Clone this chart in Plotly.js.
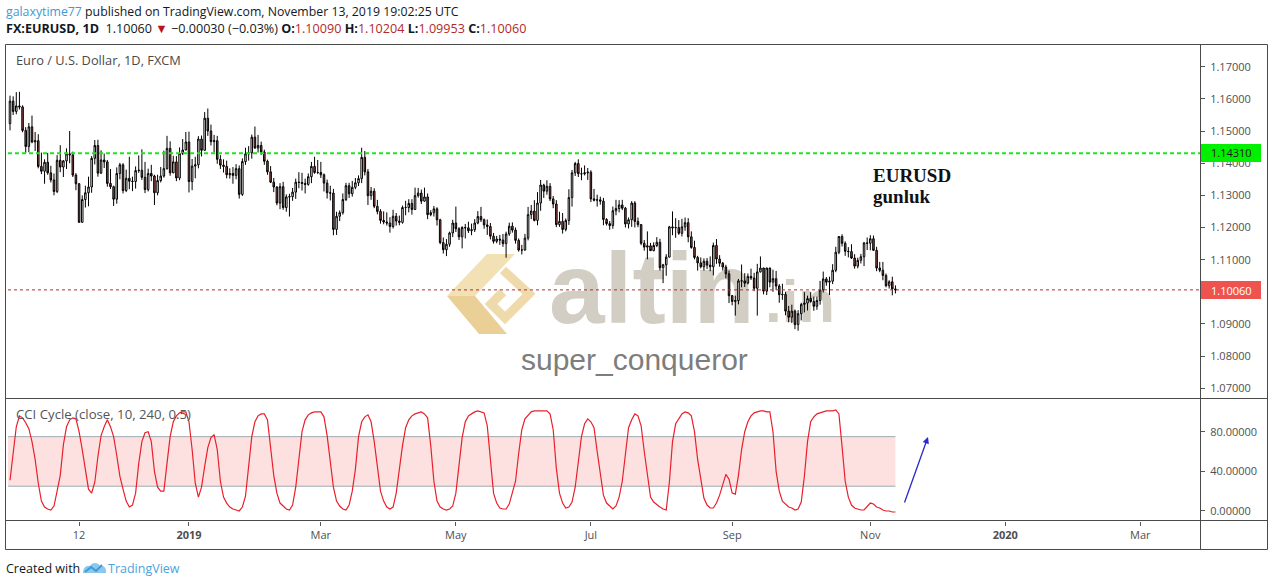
<!DOCTYPE html>
<html><head><meta charset="utf-8">
<script src="https://cdn.plot.ly/plotly-3.0.1.min.js"></script>
<style>
html,body{margin:0;padding:0;background:#fff;width:1274px;height:586px;overflow:hidden}
#wm{position:absolute;left:0;top:0;width:1274px;height:586px;z-index:0}
#chart{position:absolute;left:0;top:0;width:1274px;height:586px;z-index:1}
.wt{position:absolute;white-space:nowrap}
</style></head>
<body>
<div id="wm">
  <svg style="position:absolute;left:445px;top:252px" width="94" height="86">
    <polygon points="42,2 70,2 30,44 2,44" fill="#f0dca8" opacity="0.85"/>
    <polygon points="2,44 30,44 62,82 34,82" fill="#e6c885" opacity="0.85"/>
    <polyline points="58,18 84,42 60,66 46,52 58,40" fill="none" stroke="#ecd49c" stroke-width="9" opacity="0.85"/>
  </svg>
  <div class="wt" style="left:549px;top:238px;font:bold 100px 'Liberation Sans';line-height:100px;color:#d3cec4">altin</div>
  <div class="wt" style="left:765px;top:272px;font:bold 60px 'Liberation Sans';line-height:60px;color:#d3cec4">.in</div>
  <div class="wt" style="left:521px;top:345px;font:30px 'Liberation Sans';line-height:30px;color:#7d7d7d">super_conqueror</div>
  <svg style="position:absolute;left:82px;top:561px" width="26" height="14">
    <path d="M1,12 C1,7 4,4 8,5 C10,1 16,1 18,5 C22,4 25,8 24,12 Z" fill="#8cc8ee"/>
    <path d="M3,11 L9,6 L14,10 L20,4" fill="none" stroke="#3d9ad8" stroke-width="2"/>
  </svg>
</div>
<div id="chart"></div>
<script>
// ---- data: EURUSD daily candles, Oct 11 2018 .. Nov 13 2019 (trading days) ----
const openP = [
1.1523,1.1593,1.1561,1.1578,1.1575,1.1502,1.1452,1.1513,1.1466,1.1470,
1.1390,1.1375,1.1403,1.1370,1.1348,1.1312,1.1409,1.1388,1.1407,1.1429,
1.1426,1.1363,1.1336,1.1216,1.1287,1.1308,1.1326,1.1415,1.1455,1.1369,
1.1410,1.1404,1.1337,1.1327,1.1288,1.1368,1.1395,1.1315,1.1353,1.1344,
1.1343,1.1377,1.1378,1.1356,1.1318,1.1368,1.1360,1.1308,1.1346,1.1360,
1.1383,1.1446,1.1370,1.1404,1.1354,1.1430,1.1441,1.1466,1.1343,1.1391,
1.1395,1.1475,1.1440,1.1540,1.1500,1.1467,1.1470,1.1412,1.1394,1.1390,
1.1364,1.1368,1.1362,1.1383,1.1303,1.1405,1.1429,1.1432,1.1481,1.1447,
1.1455,1.1435,1.1406,1.1373,1.1341,1.1326,1.1276,1.1327,1.1262,1.1295,
1.1296,1.1310,1.1341,1.1340,1.1337,1.1334,1.1358,1.1390,1.1371,1.1371,
1.1364,1.1338,1.1308,1.1307,1.1194,1.1235,1.1246,1.1287,1.1330,1.1305,
1.1325,1.1339,1.1352,1.1418,1.1373,1.1299,1.1313,1.1266,1.1250,1.1222,
1.1217,1.1214,1.1203,1.1235,1.1220,1.1216,1.1262,1.1262,1.1275,1.1256,
1.1299,1.1307,1.1282,1.1295,1.1240,1.1246,1.1258,1.1224,1.1153,1.1131,
1.1148,1.1183,1.1214,1.1196,1.1171,1.1200,1.1199,1.1190,1.1193,1.1214,
1.1234,1.1224,1.1208,1.1203,1.1173,1.1157,1.1164,1.1161,1.1150,1.1180,
1.1204,1.1192,1.1160,1.1130,1.1130,1.1167,1.1240,1.1251,1.1222,1.1276,
1.1332,1.1313,1.1328,1.1289,1.1273,1.1209,1.1219,1.1194,1.1222,1.1293,
1.1370,1.1399,1.1367,1.1367,1.1370,1.1372,1.1289,1.1285,1.1286,1.1282,
1.1225,1.1212,1.1206,1.1252,1.1259,1.1270,1.1260,1.1211,1.1224,1.1276,
1.1219,1.1209,1.1151,1.1139,1.1143,1.1128,1.1144,1.1154,1.1075,1.1084,
1.1108,1.1202,1.1199,1.1200,1.1182,1.1202,1.1215,1.1171,1.1138,1.1107,
1.1090,1.1078,1.1095,1.1083,1.1078,1.1144,1.1102,1.1089,1.1077,1.1056,
1.0988,1.0970,1.0973,1.1034,1.1034,1.1027,1.1048,1.1043,1.1011,1.1062,
1.1074,1.1002,1.1074,1.1030,1.1041,1.1018,1.0991,1.0992,1.0940,1.0921,
1.0940,1.0898,1.0932,1.0961,1.0965,1.0979,1.0970,1.0955,1.0973,1.1006,
1.1040,1.1030,1.1033,1.1067,1.1123,1.1172,1.1151,1.1126,1.1125,1.1105,
1.1080,1.1098,1.1109,1.1152,1.1151,1.1165,1.1129,1.1074,1.1067,1.1051,
1.1019,1.1031,1.1009];
const highP = [
1.1610,1.1608,1.1621,1.1622,1.1580,1.1512,1.1525,1.1548,1.1497,1.1490,
1.1433,1.1412,1.1432,1.1392,1.1368,1.1425,1.1456,1.1410,1.1446,1.1500,
1.1436,1.1369,1.1338,1.1300,1.1330,1.1358,1.1422,1.1472,1.1473,1.1440,
1.1430,1.1410,1.1382,1.1330,1.1387,1.1401,1.1400,1.1380,1.1420,1.1358,
1.1390,1.1424,1.1443,1.1404,1.1383,1.1395,1.1364,1.1364,1.1388,1.1439,
1.1485,1.1468,1.1423,1.1422,1.1449,1.1475,1.1497,1.1498,1.1413,1.1420,
1.1484,1.1486,1.1559,1.1570,1.1520,1.1488,1.1485,1.1425,1.1412,1.1408,
1.1384,1.1388,1.1397,1.1393,1.1415,1.1448,1.1453,1.1489,1.1514,1.1488,
1.1467,1.1442,1.1411,1.1391,1.1354,1.1328,1.1338,1.1342,1.1303,1.1305,
1.1323,1.1352,1.1372,1.1370,1.1352,1.1368,1.1404,1.1420,1.1410,1.1404,
1.1368,1.1349,1.1330,1.1320,1.1249,1.1253,1.1306,1.1339,1.1339,1.1345,
1.1354,1.1362,1.1448,1.1438,1.1382,1.1326,1.1322,1.1286,1.1257,1.1250,
1.1247,1.1232,1.1255,1.1245,1.1237,1.1268,1.1283,1.1288,1.1288,1.1324,
1.1323,1.1318,1.1324,1.1306,1.1254,1.1267,1.1263,1.1227,1.1169,1.1164,
1.1187,1.1224,1.1265,1.1201,1.1204,1.1211,1.1218,1.1212,1.1226,1.1251,
1.1264,1.1228,1.1225,1.1214,1.1183,1.1174,1.1177,1.1180,1.1187,1.1215,
1.1216,1.1200,1.1166,1.1146,1.1180,1.1264,1.1270,1.1285,1.1310,1.1348,
1.1336,1.1347,1.1338,1.1298,1.1285,1.1249,1.1245,1.1228,1.1319,1.1379,
1.1404,1.1412,1.1386,1.1393,1.1385,1.1378,1.1320,1.1302,1.1296,1.1292,
1.1229,1.1220,1.1265,1.1286,1.1285,1.1286,1.1264,1.1231,1.1282,1.1282,
1.1231,1.1211,1.1161,1.1188,1.1152,1.1154,1.1170,1.1165,1.1087,1.1117,
1.1205,1.1250,1.1229,1.1223,1.1227,1.1231,1.1229,1.1188,1.1159,1.1112,
1.1107,1.1104,1.1105,1.1110,1.1153,1.1164,1.1114,1.1093,1.1084,1.1066,
1.0990,1.0988,1.1040,1.1085,1.1058,1.1057,1.1072,1.1059,1.1087,1.1110,
1.1075,1.1075,1.1075,1.1069,1.1065,1.1024,1.1025,1.1000,1.0956,1.0960,
1.0945,1.0943,1.0966,1.0999,1.0988,1.0999,1.0985,1.0985,1.1034,1.1063,
1.1046,1.1047,1.1086,1.1140,1.1173,1.1179,1.1157,1.1139,1.1148,1.1117,
1.1106,1.1118,1.1155,1.1169,1.1176,1.1175,1.1140,1.1093,1.1093,1.1057,
1.1036,1.1047,1.1020];
const lowP = [
1.1502,1.1550,1.1552,1.1567,1.1496,1.1432,1.1434,1.1462,1.1438,1.1384,
1.1366,1.1336,1.1364,1.1340,1.1300,1.1307,1.1372,1.1357,1.1382,1.1400,
1.1357,1.1316,1.1216,1.1216,1.1262,1.1266,1.1308,1.1396,1.1358,1.1367,
1.1385,1.1327,1.1320,1.1267,1.1274,1.1350,1.1306,1.1310,1.1319,1.1313,
1.1321,1.1370,1.1348,1.1307,1.1312,1.1344,1.1270,1.1300,1.1340,1.1355,
1.1380,1.1361,1.1369,1.1344,1.1347,1.1425,1.1440,1.1309,1.1316,1.1353,
1.1384,1.1421,1.1440,1.1485,1.1455,1.1433,1.1398,1.1382,1.1371,1.1353,
1.1352,1.1336,1.1350,1.1290,1.1298,1.1395,1.1408,1.1414,1.1445,1.1433,
1.1426,1.1395,1.1364,1.1338,1.1310,1.1269,1.1257,1.1255,1.1249,1.1234,
1.1283,1.1289,1.1322,1.1315,1.1306,1.1330,1.1338,1.1367,1.1366,1.1354,
1.1312,1.1290,1.1284,1.1176,1.1177,1.1220,1.1240,1.1282,1.1292,1.1296,
1.1319,1.1329,1.1338,1.1362,1.1270,1.1286,1.1260,1.1241,1.1212,1.1210,
1.1206,1.1184,1.1197,1.1206,1.1207,1.1212,1.1238,1.1247,1.1240,1.1255,
1.1293,1.1273,1.1280,1.1226,1.1235,1.1234,1.1206,1.1148,1.1119,1.1111,
1.1140,1.1170,1.1186,1.1161,1.1135,1.1166,1.1183,1.1176,1.1186,1.1210,
1.1217,1.1196,1.1177,1.1163,1.1150,1.1151,1.1146,1.1140,1.1106,1.1174,
1.1184,1.1150,1.1125,1.1116,1.1128,1.1160,1.1226,1.1219,1.1207,1.1252,
1.1292,1.1302,1.1282,1.1260,1.1201,1.1202,1.1181,1.1188,1.1208,1.1265,
1.1360,1.1357,1.1347,1.1362,1.1348,1.1279,1.1281,1.1265,1.1271,1.1207,
1.1206,1.1193,1.1196,1.1238,1.1247,1.1254,1.1200,1.1197,1.1202,1.1200,
1.1201,1.1145,1.1128,1.1101,1.1128,1.1126,1.1139,1.1066,1.1027,1.1050,
1.1107,1.1176,1.1168,1.1177,1.1172,1.1190,1.1154,1.1134,1.1101,1.1066,
1.1073,1.1066,1.1071,1.1064,1.1051,1.1087,1.1078,1.1066,1.1042,1.0965,
1.0958,1.0926,1.0961,1.1014,1.1015,1.1023,1.1037,1.1002,1.0926,1.1060,
1.0992,1.0990,1.1014,1.1000,1.1006,1.0966,1.0975,1.0927,1.0905,1.0903,
1.0884,1.0879,1.0911,1.0936,1.0942,1.0966,1.0941,1.0944,1.0960,1.0998,
1.1019,1.0990,1.1024,1.1061,1.1117,1.1141,1.1112,1.1107,1.1102,1.1072,
1.1073,1.1088,1.1080,1.1130,1.1129,1.1130,1.1064,1.1061,1.1036,1.1014,
1.1010,1.0989,1.0995];
const closeP = [
1.1593,1.1561,1.1578,1.1575,1.1502,1.1452,1.1513,1.1466,1.1470,1.1390,
1.1375,1.1403,1.1370,1.1348,1.1312,1.1409,1.1388,1.1407,1.1429,1.1426,
1.1363,1.1336,1.1216,1.1287,1.1308,1.1326,1.1415,1.1455,1.1369,1.1410,
1.1404,1.1337,1.1327,1.1288,1.1368,1.1395,1.1315,1.1353,1.1344,1.1343,
1.1377,1.1378,1.1356,1.1318,1.1368,1.1360,1.1308,1.1346,1.1360,1.1383,
1.1446,1.1370,1.1404,1.1354,1.1430,1.1441,1.1466,1.1343,1.1391,1.1395,
1.1475,1.1440,1.1540,1.1500,1.1467,1.1470,1.1412,1.1394,1.1390,1.1364,
1.1368,1.1362,1.1383,1.1303,1.1405,1.1429,1.1432,1.1481,1.1447,1.1455,
1.1435,1.1406,1.1373,1.1341,1.1326,1.1276,1.1327,1.1262,1.1295,1.1296,
1.1310,1.1341,1.1340,1.1337,1.1334,1.1358,1.1390,1.1371,1.1371,1.1364,
1.1338,1.1308,1.1307,1.1194,1.1235,1.1246,1.1287,1.1330,1.1305,1.1325,
1.1339,1.1352,1.1418,1.1373,1.1299,1.1313,1.1266,1.1250,1.1222,1.1217,
1.1214,1.1203,1.1235,1.1220,1.1216,1.1262,1.1262,1.1275,1.1256,1.1299,
1.1307,1.1282,1.1295,1.1240,1.1246,1.1258,1.1224,1.1153,1.1131,1.1148,
1.1183,1.1214,1.1196,1.1171,1.1200,1.1199,1.1190,1.1193,1.1214,1.1234,
1.1224,1.1208,1.1203,1.1173,1.1157,1.1164,1.1161,1.1150,1.1180,1.1204,
1.1192,1.1160,1.1130,1.1130,1.1167,1.1240,1.1251,1.1222,1.1276,1.1332,
1.1313,1.1328,1.1289,1.1273,1.1209,1.1219,1.1194,1.1222,1.1293,1.1370,
1.1399,1.1367,1.1367,1.1370,1.1372,1.1289,1.1285,1.1286,1.1282,1.1225,
1.1212,1.1206,1.1252,1.1259,1.1270,1.1260,1.1211,1.1224,1.1276,1.1219,
1.1209,1.1151,1.1139,1.1143,1.1128,1.1144,1.1154,1.1075,1.1084,1.1108,
1.1202,1.1199,1.1200,1.1182,1.1202,1.1215,1.1171,1.1138,1.1107,1.1090,
1.1078,1.1095,1.1083,1.1078,1.1144,1.1102,1.1089,1.1077,1.1056,1.0988,
1.0970,1.0973,1.1034,1.1034,1.1027,1.1048,1.1043,1.1011,1.1062,1.1074,
1.1002,1.1074,1.1030,1.1041,1.1018,1.0991,1.0992,1.0940,1.0921,1.0940,
1.0898,1.0932,1.0961,1.0965,1.0979,1.0970,1.0955,1.0973,1.1006,1.1040,
1.1030,1.1033,1.1067,1.1123,1.1172,1.1151,1.1126,1.1125,1.1105,1.1080,
1.1098,1.1109,1.1152,1.1151,1.1165,1.1129,1.1074,1.1067,1.1051,1.1019,
1.1031,1.1009,1.1006];
const cciCycle = [
31,58,85,96,94,89,83,70,52,28,
10,4,2,1,5,20,36,67,85,92,
94,93,80,62,42,22,18,29,55,76,
85,92,85,75,56,35,22,10,4,6,
18,48,70,79,80,70,40,24,20,20,
48,75,90,96,99,100,100,90,62,28,
14,24,45,64,74,77,62,30,14,8,
4,2,1,0,4,15,45,75,90,96,
98,98,92,66,36,18,8,5,2,1,
6,24,52,80,92,97,99,100,100,100,
95,76,50,24,10,5,2,1,6,20,
42,75,90,95,97,90,70,44,20,10,
4,2,4,18,44,66,84,92,96,98,
99,100,98,94,66,30,10,4,2,1,
2,5,18,45,74,90,96,98,100,101,
100,99,86,50,18,8,3,2,2,7,
18,30,58,82,93,97,100,101,101,101,
101,101,98,82,43,18,8,3,4,9,
24,50,75,88,93,90,84,60,38,16,
8,5,2,5,14,30,60,84,92,98,
96,86,60,36,14,9,6,4,2,1,
29,70,88,93,98,100,99,96,80,52,
30,13,6,3,3,8,16,26,37,32,
18,17,36,62,80,90,96,99,100,101,
101,100,100,80,40,20,10,7,4,3,
1,2,9,35,70,90,95,98,99,100,
101,101,101,102,98,65,30,14,6,3,
2,1,1,5,8,7,4,3,1,0,
0,-1,-1];
// time-axis ticks: bar positions (trading-day index) and their labels
const tickBars   = [22, 57, 99, 142, 185, 230, 274, 317, 360];
const tickLabels = ['12', '<b>2019</b>', 'Mar', 'May', 'Jul', 'Sep', 'Nov', '<b>2020</b>', 'Mar'];
const priceTicks = [1.07,1.08,1.09,1.10,1.11,1.12,1.13,1.14,1.15,1.16,1.17];
const cciTicks   = [0, 40, 80];
const levelGreen = 1.1431;
const lastClose  = 1.1006;
const bandLow = 25, bandHigh = 75;

// ---- layout helpers (pixel -> paper) ----
const W = 1274, H = 586;
const px = v => v / W;
const py = v => 1 - v / H;
const xs = closeP.map((_, i) => i);
const FONT = "'Open Sans', sans-serif";

const traces = [
  {
    type: 'candlestick', x: xs, open: openP, high: highP, low: lowP, close: closeP,
    xaxis: 'x', yaxis: 'y',
    increasing: {line: {color: '#000000', width: 1}, fillcolor: '#ffffff'},
    decreasing: {line: {color: '#000000', width: 1}, fillcolor: '#a24f4a'},
    whiskerwidth: 0, hoverinfo: 'skip', showlegend: false
  },
  {
    type: 'scatter', mode: 'lines', x: xs, y: cciCycle, xaxis: 'x', yaxis: 'y2',
    line: {color: '#e8202c', width: 1.2}, hoverinfo: 'skip', showlegend: false
  }
];

const frameColor = '#4a4a4a';
const shapes = [
  // CCI band
  {type: 'rect', xref: 'x', yref: 'y2', x0: -0.7, x1: xs.length - 1, y0: bandLow, y1: bandHigh,
   fillcolor: '#fde1e1', line: {width: 0}, layer: 'below'},
  {type: 'line', xref: 'x', yref: 'y2', x0: -0.7, x1: xs.length - 1, y0: bandLow, y1: bandLow,
   line: {color: '#9eaab0', width: 1}, layer: 'below'},
  {type: 'line', xref: 'x', yref: 'y2', x0: -0.7, x1: xs.length - 1, y0: bandHigh, y1: bandHigh,
   line: {color: '#9eaab0', width: 1}, layer: 'below'},
  // price levels
  {type: 'line', xref: 'paper', yref: 'y', x0: px(8), x1: px(1200), y0: levelGreen, y1: levelGreen,
   line: {color: '#1ee61e', width: 2, dash: '4px,3px'}},
  {type: 'line', xref: 'paper', yref: 'y', x0: px(8), x1: px(1200), y0: lastClose, y1: lastClose,
   line: {color: '#b0312b', width: 1, dash: 'dot'}},
  // frame
  {type: 'rect', xref: 'paper', yref: 'paper', x0: px(5.5), x1: px(1267.5), y0: py(549.5), y1: py(44.5),
   line: {color: frameColor, width: 1}},
  {type: 'line', xref: 'paper', yref: 'paper', x0: px(1200.5), x1: px(1200.5), y0: py(44.5), y1: py(549.5),
   line: {color: frameColor, width: 1}},
  {type: 'line', xref: 'paper', yref: 'paper', x0: px(5.5), x1: px(1267.5), y0: py(398.5), y1: py(398.5),
   line: {color: frameColor, width: 1}},
  {type: 'line', xref: 'paper', yref: 'paper', x0: px(5.5), x1: px(1267.5), y0: py(520.5), y1: py(520.5),
   line: {color: frameColor, width: 1}},
  // price labels on axis
  {type: 'rect', xref: 'paper', yref: 'paper', x0: px(1201), x1: px(1261), y0: py(162), y1: py(144),
   fillcolor: '#00f000', line: {width: 0}},
  {type: 'rect', xref: 'paper', yref: 'paper', x0: px(1201), x1: px(1261), y0: py(299), y1: py(281),
   fillcolor: '#ef5350', line: {width: 0}}
];

const ann = (text, x, y, opts) => Object.assign({
  text, x: px(x), y: py(y), xref: 'paper', yref: 'paper', xanchor: 'left', yanchor: 'middle',
  showarrow: false, font: {family: FONT, size: 12.3, color: '#131722'}
}, opts || {});

const red = '#b22a2a';
const annotations = [
  ann("<span style='color:#3f9ad6'>galaxytime77</span> published on TradingView.com, November 13, 2019 19:02:25 UTC", 4, 12),
  ann("<b>FX:EURUSD, 1D</b>  1.10060 <span style='color:#b8141b'>▼</span> −0.00030 (−0.03%) <b>O:</b><span style='color:" + red + "'>1.10090</span> <b>H:</b><span style='color:" + red + "'>1.10204</span> <b>L:</b><span style='color:" + red + "'>1.09953</span> <b>C:</b><span style='color:" + red + "'>1.10060</span>", 4, 29, {font: {family: FONT, size: 12.6, color: '#131722'}}),
  ann('Euro / U.S. Dollar, 1D, FXCM', 14, 60, {font: {family: FONT, size: 12.8, color: '#4a4a4a'}}),
  ann('CCI Cycle (close, 10, 240, 0.5)', 14, 414, {font: {family: FONT, size: 13.2, color: '#555555'}}),
  ann('<b>EURUSD</b>', 871, 175, {font: {family: "'Liberation Serif', serif", size: 19, color: '#111'}}),
  ann('<b>gunluk</b>', 871, 196, {font: {family: "'Liberation Serif', serif", size: 19, color: '#111'}}),
  ann('1.14310', 1231, 152.5, {xanchor: 'center', font: {family: FONT, size: 11, color: '#1a1a1a'}}),
  ann('1.10060', 1231, 290, {xanchor: 'center', font: {family: FONT, size: 11, color: '#ffffff'}}),
  ann('Created with', 4, 568, {font: {family: FONT, size: 12.5, color: '#131722'}}),
  ann('TradingView', 106, 568, {font: {family: FONT, size: 12.5, color: '#4aa3de'}}),
  {text: '', xref: 'paper', yref: 'paper', x: px(928), y: py(437), ax: -24, ay: 67,
   showarrow: true, arrowhead: 2, arrowsize: 1, arrowwidth: 1.3, arrowcolor: '#2a2acc'}
];

const tickFont = {family: FONT, size: 11, color: '#4f4f4f'};
const layout = {
  width: W, height: H, margin: {l: 0, r: 0, t: 0, b: 0},
  paper_bgcolor: 'rgba(0,0,0,0)', plot_bgcolor: 'rgba(0,0,0,0)',
  showlegend: false, hovermode: false, dragmode: false,
  xaxis: {
    domain: [px(8), px(1200)], range: [-0.64, 379], anchor: 'y2',
    tickmode: 'array', tickvals: tickBars, ticktext: tickLabels,
    ticks: 'outside', ticklen: 4, tickcolor: '#555', tickfont: tickFont,
    showgrid: false, zeroline: false, showline: false,
    rangeslider: {visible: false}, fixedrange: true
  },
  yaxis: {
    domain: [py(398), py(45)], range: [1.06698, 1.17675], side: 'right', anchor: 'x',
    tickmode: 'array', tickvals: priceTicks, tickformat: '.5f',
    ticks: 'outside', ticklen: 4, tickcolor: '#555', tickfont: tickFont, ticklabelstandoff: 3,
    showgrid: false, zeroline: false, showline: false, fixedrange: true
  },
  yaxis2: {
    domain: [py(520.5), py(399)], range: [-9.6, 113], side: 'right', anchor: 'x',
    tickmode: 'array', tickvals: cciTicks, tickformat: '.5f',
    ticks: 'outside', ticklen: 4, tickcolor: '#555', tickfont: tickFont, ticklabelstandoff: 3,
    showgrid: false, zeroline: false, showline: false, fixedrange: true
  },
  shapes, annotations
};

Plotly.newPlot('chart', traces, layout, {staticPlot: true, displayModeBar: false});
</script>
</body></html>
